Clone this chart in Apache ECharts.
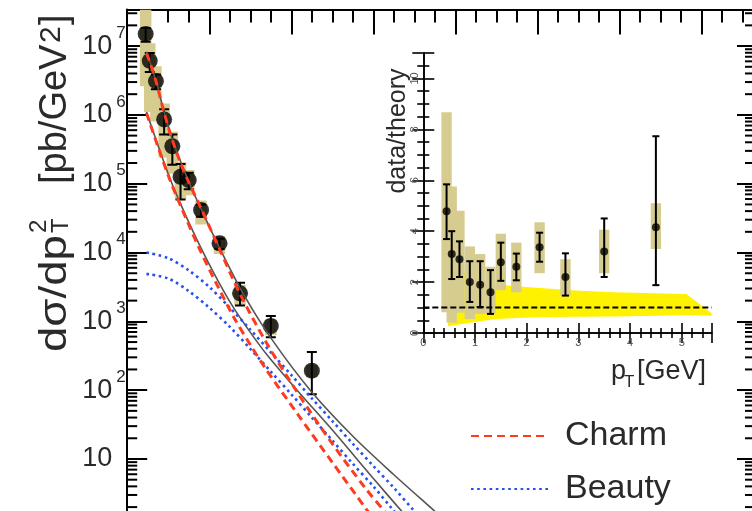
<!DOCTYPE html>
<html>
<head>
<meta charset="utf-8">
<script src="https://cdn.jsdelivr.net/npm/echarts@6.0.0/dist/echarts.min.js"></script>
<style>
html, body { margin: 0; padding: 0; background: #fff; }
#chart { width: 752px; height: 511px; }
</style>
</head>
<body>
<div id="chart"></div>
<script>
const FONT = '"Liberation Sans", Arial, Helvetica, sans-serif'
const INK = '#2a2a2a'
const KHAKI = '#d6cc8f'

// measured cross section (main panel)
const ptBins = [0.45, 0.55, 0.7, 0.9, 1.1, 1.3, 1.5, 1.8, 2.25, 2.75, 3.5, 4.5]
const xsec = [1.5e7, 6.1e6, 3.1e6, 8.6e5, 3.5e5, 1.26e5, 1.13e5, 4.15e4, 1.36e4, 2550, 855, 192]
const statLo = [1.16e7, 4.2e6, 2.35e6, 5.2e5, 1.88e5, 5.9e4, 8.3e4, 3.3e4, 1.13e4, 1700, 588, 87]
const statHi = [1.83e7, 7.9e6, 3.85e6, 1.21e6, 5.2e5, 1.94e5, 1.44e5, 4.98e4, 1.59e4, 3630, 1200, 358]
const sysLo = [2.6e6, 1.1e6, 8.0e5, 2.4e5, 1.4e5, 5.9e4, 6.8e4, 2.55e4, 9.5e3, 1680, 627, 153]
const sysHi = [3.4e7, 1.1e7, 5.1e6, 1.46e6, 5.7e5, 2.05e5, 1.58e5, 5.7e4, 1.75e4, 3400, 1090, 236]

// theory curves (main panel)
const charmHiPt = [0.47, 0.55, 0.7, 0.9, 1.1, 1.3, 1.5, 1.8, 2.25, 2.75, 3.4, 4.2, 5.0, 5.8, 6.32, 6.6]
const charmHiVal = [7.9e6, 5.9e6, 3.1e6, 1.07e6, 4.3e5, 2.0e5, 1.05e5, 4.4e4, 1.12e4, 2.5e3, 480, 83, 16.6, 3.8, 1.6, 1.0]
const charmLoPt = [0.47, 0.7, 1.0, 1.3, 1.77, 2.2, 2.59, 3.0, 3.4, 4.2, 5.0, 5.84, 6.1]
const charmLoVal = [1.07e6, 4.2e5, 1.32e5, 4.8e4, 1.1e4, 3.3e3, 1.17e3, 457, 195, 41, 8.9, 1.82, 1.12]
const beautyHiPt = [0.47, 1.0, 1.5, 2.0, 2.5, 3.0, 3.5, 4.0, 4.5, 5.0, 5.5, 6.0, 6.5, 7.0, 7.3]
const beautyHiVal = [1.0e4, 8.3e3, 5.5e3, 3.16e3, 1.58e3, 759, 355, 166, 76, 35.5, 16.6, 7.9, 3.8, 1.74, 1.12]
const beautyLoPt = [0.47, 1.0, 1.5, 2.0, 2.5, 3.0, 3.5, 4.0, 4.5, 5.0, 5.5, 6.0, 6.45, 6.8]
const beautyLoVal = [4.9e3, 4.2e3, 2.75e3, 1.58e3, 832, 398, 186, 87, 40, 18.6, 8.5, 4.0, 1.9, 1.07]
const totalHiPt = [0.47, 0.7, 0.9, 1.1, 1.5, 1.8, 2.25, 2.83, 3.5, 4.46, 5.5, 6.5, 7.46, 7.8]
const totalHiVal = [8.3e6, 3.16e6, 1.1e6, 4.4e5, 1.07e5, 4.3e4, 1.17e4, 2.5e3, 575, 100, 21.4, 5.9, 1.82, 1.2]
const totalLoPt = [0.47, 1.0, 1.3, 1.77, 2.2, 2.59, 3.0, 3.4, 4.2, 5.0, 6.0, 6.72, 7.0]
const totalLoVal = [1.1e6, 1.38e5, 5.1e4, 1.26e4, 4.0e3, 1.58e3, 692, 331, 91, 26.3, 5.2, 1.66, 1.07]

// inset: data / theory
const ratio = [4.78, 3.1, 2.9, 2.0, 1.9, 1.6, 2.78, 2.6, 3.37, 2.2, 3.2, 4.15]
const rStatLo = [3.69, 2.12, 2.2, 1.22, 1.02, 0.75, 2.05, 2.07, 2.8, 1.47, 2.2, 1.88]
const rStatHi = [5.84, 4.0, 3.6, 2.82, 2.82, 2.47, 3.55, 3.12, 3.94, 3.13, 4.5, 7.73]
const rSysLo = [0.82, 0.4, 0.8, 0.55, 0.75, 0.75, 1.68, 1.6, 2.35, 1.45, 2.35, 3.3]
const rSysHi = [8.67, 5.76, 4.8, 3.4, 3.1, 2.6, 3.9, 3.55, 4.35, 2.9, 4.06, 5.1]
const bandPt = [0.48, 1.0, 1.41, 1.93, 2.39, 3.03, 3.68, 5.09, 5.58]
const bandLo = [0.27, 0.43, 0.55, 0.6, 0.63, 0.64, 0.65, 0.7, 0.68]
const bandHi = [2.8, 2.2, 1.91, 1.82, 1.75, 1.66, 1.6, 1.53, 0.78]

// axis ranges
const mainPtMax = 15.3
const mainYMin = 1
const mainYMax = 3.4e7
const insetPtMax = 5.58
const insetYMax = 11

// log minor ticks 2..9 per decade
const yMinorTicks = []
for (let e = 0; e < 8; e++) {
  for (let k = 2; k <= 9; k++) {
    const v = k * Math.pow(10, e)
    if (v < mainYMax) yMinorTicks.push(v)
  }
}

const zip = (xs, ys) => xs.map((x, i) => [x, ys[i]])

const boxItem = (hw) => (params, api) => {
  const x = api.value(0)
  const p1 = api.coord([x - hw, api.value(2)])
  const p2 = api.coord([x + hw, api.value(1)])
  return {
    type: 'rect',
    shape: { x: p1[0], y: p1[1], width: p2[0] - p1[0], height: p2[1] - p1[1] },
    style: { fill: KHAKI }
  }
}

const errorBarItem = (cap, width) => (params, api) => {
  const x = api.value(0)
  const lo = api.coord([x, api.value(1)])
  const hi = api.coord([x, api.value(2)])
  const style = { stroke: '#000', lineWidth: width }
  return {
    type: 'group',
    children: [
      { type: 'line', shape: { x1: lo[0], y1: lo[1], x2: hi[0], y2: hi[1] }, style },
      { type: 'line', shape: { x1: lo[0] - cap, y1: lo[1], x2: lo[0] + cap, y2: lo[1] }, style },
      { type: 'line', shape: { x1: hi[0] - cap, y1: hi[1], x2: hi[0] + cap, y2: hi[1] }, style }
    ]
  }
}

const curve = (name, xs, ys, color, width, type) => ({
  name,
  type: 'line',
  xAxisIndex: 0,
  yAxisIndex: 0,
  data: zip(xs, ys),
  smooth: 0.3,
  symbol: 'none',
  z: 6,
  lineStyle: { color, width, type },
  itemStyle: { color }
})

const mainTickStyle = { color: '#000', width: 2 }
const insetTickStyle = { color: '#000', width: 1.6 }

const chart = echarts.init(document.getElementById('chart'), null, { renderer: 'canvas' })

const option = {
  animation: false,
  backgroundColor: '#fff',
  grid: [
    // the frame runs past the bottom and right edges of the picture
    { left: 127.2, top: 9.5, width: 627.8, height: 518.3, outerBoundsMode: 'none', containLabel: false },
    { left: 423.3, top: 53, width: 288.4, height: 280, outerBoundsMode: 'none', containLabel: false, backgroundColor: '#fff', show: true, borderWidth: 0 }
  ],
  legend: {
    data: ['Charm', 'Beauty'],
    orient: 'vertical',
    left: 470,
    top: 418,
    padding: 0,
    itemWidth: 77,
    itemHeight: 12,
    itemGap: 17,
    itemStyle: { opacity: 0, borderWidth: 0 },
    textStyle: { fontSize: 34, fontFamily: FONT, color: INK, lineHeight: 36, padding: [0, 0, 0, 12] }
  },
  xAxis: [
    {
      gridIndex: 0, type: 'value', position: 'top', min: 0, max: mainPtMax, interval: 2,
      axisLine: { lineStyle: mainTickStyle },
      axisTick: { inside: true, length: 25, lineStyle: mainTickStyle },
      minorTick: { show: true, splitNumber: 4, length: 13, lineStyle: mainTickStyle },
      axisLabel: { show: false },
      splitLine: { show: false }
    },
    {
      gridIndex: 1, type: 'value', position: 'bottom', min: 0, max: insetPtMax, interval: 1,
      axisLine: { lineStyle: insetTickStyle },
      axisTick: { inside: true, length: 10, lineStyle: insetTickStyle },
      minorTick: { show: true, splitNumber: 5, length: 5, lineStyle: insetTickStyle },
      axisLabel: { fontSize: 11, color: '#555', fontFamily: FONT, margin: 4, showMaxLabel: false },
      splitLine: { show: false }
    },
    {
      gridIndex: 1, type: 'value', position: 'top', min: 0, max: insetPtMax, interval: 1,
      axisLine: { lineStyle: insetTickStyle },
      axisTick: { inside: true, length: 10, lineStyle: insetTickStyle },
      minorTick: { show: true, splitNumber: 5, length: 5, lineStyle: insetTickStyle },
      axisLabel: { show: false },
      splitLine: { show: false }
    }
  ],
  yAxis: [
    {
      gridIndex: 0, type: 'log', logBase: 10, position: 'left', min: mainYMin, max: mainYMax, interval: 1,
      axisLine: { lineStyle: mainTickStyle },
      axisTick: { inside: true, length: 20, lineStyle: mainTickStyle },
      splitLine: { show: false },
      axisLabel: {
        align: 'left',
        margin: 45,
        color: INK,
        fontFamily: FONT,
        formatter: (v) => {
          const e = Math.log10(v)
          const n = Math.round(e)
          if (Math.abs(e - n) > 1e-6 || n < 1) return ''
          if (n === 1) return '{b|10}'
          return '{b|10}{e|' + n + '}'
        },
        rich: {
          b: { fontSize: 27, fontFamily: FONT, color: INK },
          e: { fontSize: 17, fontFamily: FONT, color: INK, padding: [0, 0, 26, 4] }
        }
      }
    },
    {
      gridIndex: 0, type: 'log', logBase: 10, position: 'right', min: mainYMin, max: mainYMax, interval: 1,
      axisLine: { lineStyle: mainTickStyle },
      axisTick: { inside: true, length: 18, lineStyle: mainTickStyle },
      axisLabel: { show: false },
      splitLine: { show: false }
    },
    {
      gridIndex: 1, type: 'value', position: 'left', min: 0, max: insetYMax, interval: 2,
      axisLine: { lineStyle: insetTickStyle },
      axisTick: { inside: true, length: 11, lineStyle: insetTickStyle },
      minorTick: { show: true, splitNumber: 4, length: 6, lineStyle: insetTickStyle },
      axisLabel: { fontSize: 11, color: '#555', fontFamily: FONT, margin: 3, rotate: 90, showMaxLabel: false },
      splitLine: { show: false }
    },
    {
      gridIndex: 1, type: 'value', position: 'right', min: 0, max: insetYMax, interval: 2,
      axisLine: { lineStyle: insetTickStyle },
      axisTick: { inside: true, length: 11, lineStyle: insetTickStyle },
      minorTick: { show: true, splitNumber: 4, length: 6, lineStyle: insetTickStyle },
      axisLabel: { show: false },
      splitLine: { show: false }
    }
  ],
  series: [
    // minor log ticks on both sides of the main frame
    {
      type: 'custom',
      xAxisIndex: 0,
      yAxisIndex: 0,
      silent: true,
      z: 8,
      data: yMinorTicks.map((v) => [0, v]),
      renderItem: (params, api) => {
        const v = api.value(1)
        const l = api.coord([0, v])
        const r = api.coord([mainPtMax, v])
        const style = { stroke: '#000', lineWidth: 2 }
        return {
          type: 'group',
          children: [
            { type: 'line', shape: { x1: l[0], y1: l[1], x2: l[0] + 10, y2: l[1] }, style },
            { type: 'line', shape: { x1: r[0] - 10, y1: r[1], x2: r[0], y2: r[1] }, style }
          ]
        }
      }
    },
    {
      type: 'custom',
      xAxisIndex: 0,
      yAxisIndex: 0,
      clip: true,
      z: 1,
      data: ptBins.map((x, i) => [x, sysLo[i], sysHi[i]]),
      encode: { x: 0, y: [1, 2] },
      renderItem: boxItem(0.14)
    },
    {
      type: 'custom',
      xAxisIndex: 0,
      yAxisIndex: 0,
      clip: true,
      z: 2,
      data: ptBins.map((x, i) => [x, statLo[i], statHi[i]]),
      encode: { x: 0, y: [1, 2] },
      renderItem: errorBarItem(5, 2)
    },
    {
      type: 'scatter',
      xAxisIndex: 0,
      yAxisIndex: 0,
      z: 3,
      symbolSize: 16,
      itemStyle: { color: '#000' },
      data: zip(ptBins, xsec)
    },
    curve('Total', totalHiPt, totalHiVal, '#555', 1.6, 'solid'),
    curve('Total', totalLoPt, totalLoVal, '#555', 1.6, 'solid'),
    curve('Beauty', beautyHiPt, beautyHiVal, '#2451f0', 2.6, [2.6, 3.6]),
    curve('Beauty', beautyLoPt, beautyLoVal, '#2451f0', 2.6, [2.6, 3.6]),
    curve('Charm', charmHiPt, charmHiVal, '#ff3b1f', 3, [8, 5]),
    curve('Charm', charmLoPt, charmLoVal, '#ff3b1f', 3, [8, 5]),

    // inset
    {
      type: 'custom',
      xAxisIndex: 1,
      yAxisIndex: 2,
      z: 1,
      data: bandPt.map((x, i) => [x, bandLo[i], bandHi[i]]),
      encode: { x: 0, y: [1, 2] },
      renderItem: (params, api) => {
        if (params.dataIndex !== 0) return null
        const upper = bandPt.map((x, i) => api.coord([x, bandHi[i]]))
        const lower = bandPt.map((x, i) => api.coord([x, bandLo[i]])).reverse()
        return { type: 'polygon', shape: { points: upper.concat(lower) }, style: { fill: '#fff200' } }
      }
    },
    {
      type: 'custom',
      xAxisIndex: 1,
      yAxisIndex: 2,
      z: 2,
      data: ptBins.map((x, i) => [x, rSysLo[i], rSysHi[i]]),
      encode: { x: 0, y: [1, 2] },
      renderItem: boxItem(0.1)
    },
    {
      type: 'custom',
      xAxisIndex: 1,
      yAxisIndex: 2,
      z: 3,
      data: ptBins.map((x, i) => [x, rStatLo[i], rStatHi[i]]),
      encode: { x: 0, y: [1, 2] },
      renderItem: errorBarItem(3.5, 2)
    },
    {
      type: 'scatter',
      xAxisIndex: 1,
      yAxisIndex: 2,
      z: 4,
      symbolSize: 8,
      itemStyle: { color: '#000' },
      data: zip(ptBins, ratio)
    },
    {
      type: 'line',
      xAxisIndex: 1,
      yAxisIndex: 2,
      z: 5,
      symbol: 'none',
      data: [[0, 1], [insetPtMax, 1]],
      lineStyle: { color: '#000', width: 2, type: [6, 3] }
    }
  ],
  graphic: [
    {
      type: 'group',
      x: 56,
      y: 352,
      rotation: Math.PI / 2,
      children: [
        { type: 'text', x: 0, y: 0, scaleX: 1.2, style: { text: 'dσ/dp', fontSize: 38, fontFamily: FONT, fill: INK, align: 'left', verticalAlign: 'middle' } },
        { type: 'text', x: 119, y: -17, style: { text: '2', fontSize: 24, fontFamily: FONT, fill: INK, align: 'left', verticalAlign: 'middle' } },
        { type: 'text', x: 119, y: 5, style: { text: 'T', fontSize: 24, fontFamily: FONT, fill: INK, align: 'left', verticalAlign: 'middle' } },
        { type: 'text', x: 168, y: 0, style: { text: '[pb/GeV', fontSize: 38, fontFamily: FONT, fill: INK, align: 'left', verticalAlign: 'middle' } },
        { type: 'text', x: 309, y: -4, style: { text: '2', fontSize: 30, fontFamily: FONT, fill: INK, align: 'left', verticalAlign: 'middle' } },
        { type: 'text', x: 327, y: 0, style: { text: ']', fontSize: 38, fontFamily: FONT, fill: INK, align: 'left', verticalAlign: 'middle' } }
      ]
    },
    {
      type: 'text',
      x: 398,
      y: 131,
      rotation: Math.PI / 2,
      style: { text: 'data/theory', fontSize: 25, fontFamily: FONT, fill: INK, align: 'center', verticalAlign: 'middle' }
    },
    { type: 'text', x: 611, y: 372, style: { text: 'p', fontSize: 27, fontFamily: FONT, fill: INK, align: 'left', verticalAlign: 'middle' } },
    { type: 'text', x: 624, y: 382, style: { text: 'T', fontSize: 17, fontFamily: FONT, fill: INK, align: 'left', verticalAlign: 'middle' } },
    { type: 'text', x: 637, y: 372, style: { text: '[GeV]', fontSize: 27, fontFamily: FONT, fill: INK, align: 'left', verticalAlign: 'middle' } }
  ]
}

chart.setOption(option)
</script>
</body>
</html>
